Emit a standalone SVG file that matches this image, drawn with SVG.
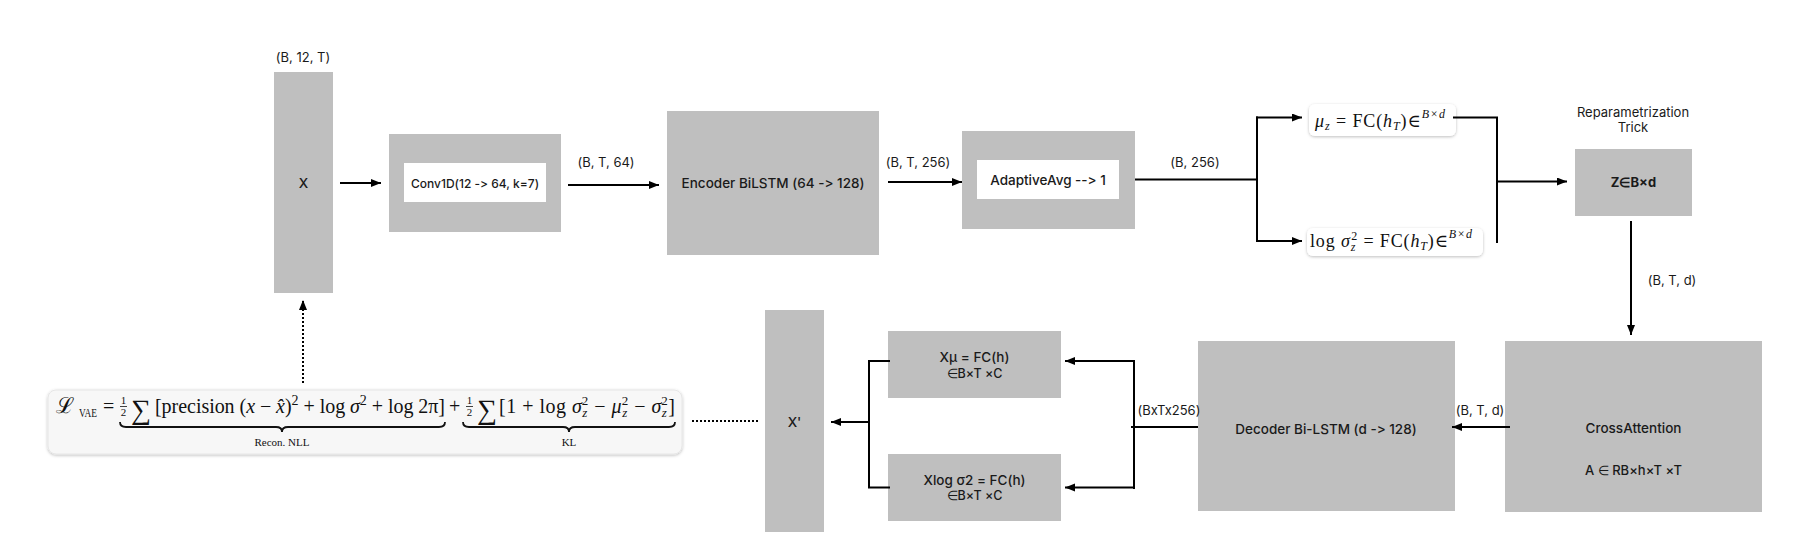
<svg xmlns="http://www.w3.org/2000/svg" width="1802" height="556" viewBox="0 0 1802 556">
<defs>
<style>
.box{fill:#bfbfbf}
.inner{fill:#ffffff}
.lbl{font-family:Inter,"Liberation Sans",sans-serif;font-size:13.5px;font-weight:500;fill:#1a1a1a;text-anchor:middle;dominant-baseline:central;font-feature-settings:"calt" 0,"liga" 0;font-variant-ligatures:none}
.edge{font-family:Inter,"Liberation Sans",sans-serif;font-size:13px;font-weight:400;fill:#1a1a1a;text-anchor:middle;dominant-baseline:central;font-feature-settings:"calt" 0,"liga" 0;font-variant-ligatures:none}
.ln{stroke:#000;stroke-width:2;fill:none}
.dot{stroke:#000;stroke-width:2;fill:none;stroke-dasharray:2 2}
.m{font-family:"Liberation Serif","DejaVu Serif",serif;fill:#111}
.i{font-style:italic}
.brace{stroke:#111;stroke-width:1.8;fill:none}
</style>
<marker id="ah" markerUnits="userSpaceOnUse" markerWidth="11" markerHeight="9" refX="10" refY="4" orient="auto">
<path d="M0,0 L10,4 L0,8 z" fill="#000"/>
</marker>
<filter id="sh" x="-10%" y="-30%" width="120%" height="160%">
<feDropShadow dx="0" dy="1" stdDeviation="1.5" flood-color="#000" flood-opacity="0.25"/>
</filter>
</defs>
<rect width="1802" height="556" fill="#ffffff"/>

<g id="node-x">
<rect class="box" x="274" y="72" width="59" height="221"/>
<text class="lbl" x="303.5" y="183">X</text>
<text class="edge" x="303" y="57">(B, 12, T)</text>
</g>

<g id="node-conv">
<rect class="box" x="389" y="134" width="172" height="98"/>
<rect class="inner" x="404" y="163" width="142" height="39"/>
<text class="lbl" x="475" y="183" style="font-size:12px">Conv1D(12 -&gt; 64, k=7)</text>
</g>

<g id="node-encoder">
<rect class="box" x="667" y="111" width="212" height="144"/>
<text class="lbl" x="773" y="183">Encoder BiLSTM (64 -&gt; 128)</text>
</g>

<g id="node-avg">
<rect class="box" x="962" y="131" width="173" height="98"/>
<rect class="inner" x="977" y="160" width="142" height="39"/>
<text class="lbl" x="1048" y="180">AdaptiveAvg --&gt; 1</text>
</g>

<g id="node-mu">
<rect x="1309" y="104" width="147" height="32" rx="6" fill="#fff" filter="url(#sh)"/>
<text class="m" x="1315" y="127" font-size="18" textLength="130" lengthAdjust="spacing"><tspan class="i">μ</tspan><tspan class="i" font-size="12" dy="3">z</tspan><tspan dy="-3"> = FC(</tspan><tspan class="i">h</tspan><tspan class="i" font-size="12" dy="3">T</tspan><tspan dy="-3">)∈</tspan><tspan class="i" font-size="12" dy="-9">B×d</tspan></text>
</g>

<g id="node-logvar">
<rect x="1307" y="228" width="176" height="28" rx="6" fill="#fff" filter="url(#sh)"/>
<text class="m" x="1310" y="247" font-size="18" textLength="162" lengthAdjust="spacing">log <tspan class="i">σ</tspan><tspan class="i" font-size="12" dy="4">z</tspan><tspan font-size="12" dx="-5" dy="-11">2</tspan><tspan dy="7"> = FC(</tspan><tspan class="i">h</tspan><tspan class="i" font-size="12" dy="3">T</tspan><tspan dy="-3">)∈</tspan><tspan class="i" font-size="12" dy="-9">B×d</tspan></text>
</g>

<g id="node-z">
<text class="edge" x="1633" y="112">Reparametrization</text>
<text class="edge" x="1633" y="127">Trick</text>
<rect class="box" x="1575" y="149" width="117" height="67"/>
<text class="lbl" x="1633.5" y="182" style="font-weight:700;font-size:13px">Z∈B×d</text>
</g>

<g id="node-crossattn">
<rect class="box" x="1505" y="341" width="257" height="171"/>
<text class="lbl" x="1633.5" y="428">CrossAttention</text>
<text class="lbl" x="1633.5" y="470" style="font-size:13px">A ∈ RB×h×T ×T</text>
</g>

<g id="node-decoder">
<rect class="box" x="1198" y="341" width="257" height="170"/>
<text class="lbl" x="1326" y="429">Decoder Bi-LSTM (d -&gt; 128)</text>
</g>

<g id="node-xmu">
<rect class="box" x="888" y="331" width="173" height="67"/>
<text class="lbl" x="974.5" y="357">Xμ = FC(h)</text>
<text class="lbl" x="974.5" y="373" style="font-size:12.5px">∈B×T ×C</text>
</g>

<g id="node-xlogvar">
<rect class="box" x="888" y="454" width="173" height="67"/>
<text class="lbl" x="974.5" y="480">Xlog σ2 = FC(h)</text>
<text class="lbl" x="974.5" y="495" style="font-size:12.5px">∈B×T ×C</text>
</g>

<g id="node-xprime">
<rect class="box" x="765" y="310" width="59" height="222"/>
<text class="lbl" x="794.5" y="422">X'</text>
</g>

<g id="node-loss">
<rect x="48" y="390" width="634" height="64" rx="8" fill="#f7f7f7" stroke="#e6e6e6" stroke-width="1" filter="url(#sh)"/>
<text class="m" x="56" y="413" font-size="22">ℒ</text>
<text class="m" x="79" y="417" font-size="12" textLength="18" lengthAdjust="spacingAndGlyphs">VAE</text>
<text class="m" x="103" y="413" font-size="20">=</text>
<text class="m" x="123.5" y="404" font-size="11" text-anchor="middle">1</text>
<line x1="120" y1="406.5" x2="127" y2="406.5" stroke="#111" stroke-width="0.8"/>
<text class="m" x="123.5" y="416" font-size="11" text-anchor="middle">2</text>
<text class="m" x="131" y="419" font-size="28">∑</text>
<text class="m" x="155" y="413" font-size="20" textLength="290" lengthAdjust="spacing">[precision (<tspan class="i">x</tspan> − <tspan class="i">x̂</tspan>)<tspan font-size="14" dy="-8">2</tspan><tspan dy="8"> + log </tspan><tspan class="i">σ</tspan><tspan font-size="14" dy="-8">2</tspan><tspan dy="8"> + log 2π]</tspan></text>
<text class="m" x="449" y="413" font-size="20">+</text>
<text class="m" x="469.5" y="404" font-size="11" text-anchor="middle">1</text>
<line x1="466" y1="406.5" x2="473" y2="406.5" stroke="#111" stroke-width="0.8"/>
<text class="m" x="469.5" y="416" font-size="11" text-anchor="middle">2</text>
<text class="m" x="477" y="419" font-size="28">∑</text>
<text class="m" x="499" y="413" font-size="20" textLength="176" lengthAdjust="spacing">[1 + log <tspan class="i">σ</tspan><tspan class="i" font-size="13" dy="4">z</tspan><tspan font-size="13" dx="-6" dy="-12">2</tspan><tspan dy="8"> − </tspan><tspan class="i">μ</tspan><tspan class="i" font-size="13" dy="4">z</tspan><tspan font-size="13" dx="-6" dy="-12">2</tspan><tspan dy="8"> − </tspan><tspan class="i">σ</tspan><tspan class="i" font-size="13" dy="4">z</tspan><tspan font-size="13" dx="-6" dy="-12">2</tspan><tspan dy="8">]</tspan></text>
<path class="brace" d="M120,422 Q120,427 126,427 L276,427 Q282,427 282,432 Q282,427 288,427 L439,427 Q445,427 445,422"/>
<path class="brace" d="M463,422 Q463,427 469,427 L563,427 Q569,427 569,432 Q569,427 575,427 L669,427 Q675,427 675,422"/>
<text class="m" x="282" y="446" font-size="11" text-anchor="middle">Recon. NLL</text>
<text class="m" x="569" y="446" font-size="11" text-anchor="middle">KL</text>
</g>

<g id="connectors">
<line class="ln" x1="340" y1="183" x2="381" y2="183" marker-end="url(#ah)"/>
<line class="ln" x1="568" y1="185" x2="659" y2="185" marker-end="url(#ah)"/>
<text class="edge" x="606" y="162">(B, T, 64)</text>
<line class="ln" x1="888" y1="182" x2="962" y2="182" marker-end="url(#ah)"/>
<text class="edge" x="918" y="162">(B, T, 256)</text>
<line class="ln" x1="1135" y1="179.5" x2="1258" y2="179.5"/>
<line class="ln" x1="1257" y1="116.5" x2="1257" y2="242"/>
<line class="ln" x1="1256" y1="117.5" x2="1302" y2="117.5" marker-end="url(#ah)"/>
<line class="ln" x1="1256" y1="241" x2="1302" y2="241" marker-end="url(#ah)"/>
<text class="edge" x="1195" y="162">(B, 256)</text>
<polyline class="ln" points="1453,117.5 1497,117.5 1497,243"/>
<line class="ln" x1="1498" y1="181.5" x2="1567" y2="181.5" marker-end="url(#ah)"/>
<line class="ln" x1="1631" y1="221" x2="1631" y2="335" marker-end="url(#ah)"/>
<text class="edge" x="1672" y="280">(B, T, d)</text>
<line class="ln" x1="1510" y1="427" x2="1452" y2="427" marker-end="url(#ah)"/>
<text class="edge" x="1480" y="410">(B, T, d)</text>
<line class="ln" x1="1198" y1="427" x2="1131" y2="427"/>
<line class="ln" x1="1134" y1="360" x2="1134" y2="489"/>
<line class="ln" x1="1135" y1="361" x2="1065" y2="361" marker-end="url(#ah)"/>
<line class="ln" x1="1135" y1="487.5" x2="1065" y2="487.5" marker-end="url(#ah)"/>
<text class="edge" x="1169" y="410">(BxTx256)</text>
<polyline class="ln" points="890,361 869,361 869,487.5 890,487.5"/>
<line class="ln" x1="869" y1="422" x2="831" y2="422" marker-end="url(#ah)"/>
<line class="dot" x1="692" y1="421" x2="758" y2="421"/>
<line class="dot" x1="303" y1="383" x2="303" y2="300" marker-end="url(#ah)"/>
</g>
</svg>
